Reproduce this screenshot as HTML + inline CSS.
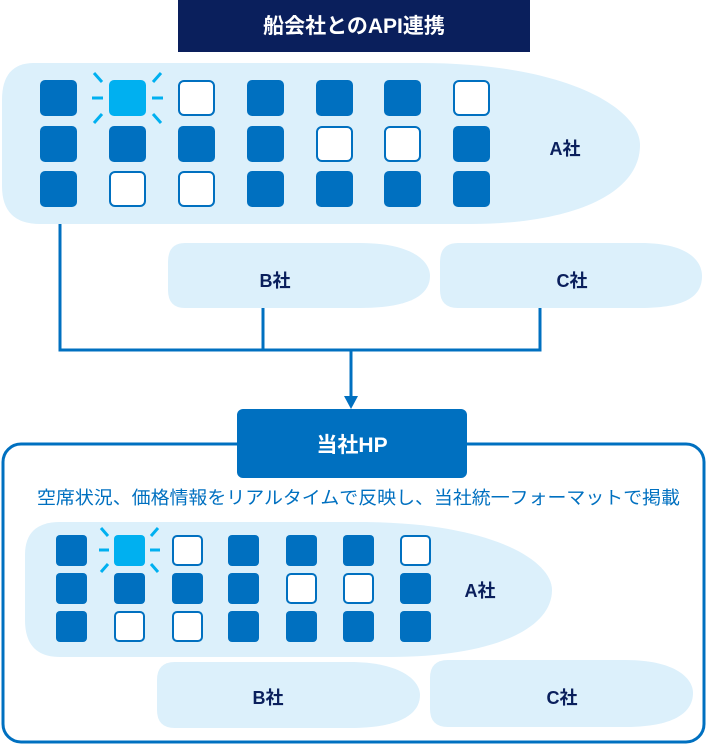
<!DOCTYPE html>
<html><head><meta charset="utf-8"><style>
body{margin:0;background:#fff}
svg{display:block}
text{font-family:"Liberation Sans","Noto Sans CJK JP",sans-serif;font-weight:bold}
</style></head><body>
<svg width="708" height="745" viewBox="0 0 708 745" xmlns="http://www.w3.org/2000/svg">
<!-- title -->
<rect x="178" y="0" width="352" height="52" fill="#0a1f5c"/>
<text x="354" y="33" fill="#fff" font-size="21" text-anchor="middle">船会社とのAPI連携</text>

<!-- top A plane -->
<path d="M34,63 H420 C570,63 640,110 640,145 C640,195 570,224 470,224 H40 Q2,224 2,186 V100 Q2,63 34,63 Z" fill="#dcf0fb"/>
<text x="565" y="155" fill="#0a1f5c" font-size="18" text-anchor="middle">A社</text>

<path d="M185,243 H360 C410,243 430,260 430,276 C430,295 410,308 360,308 H185 Q168,308 168,290 V262 Q168,243 185,243 Z" fill="#dcf0fb"/>
<path d="M458,243 H640 C690,243 702,262 702,276 C702,295 688,308 640,308 H458 Q440,308 440,290 V262 Q440,243 458,243 Z" fill="#dcf0fb"/>
<text x="275" y="287" fill="#0a1f5c" font-size="18" text-anchor="middle">B社</text>
<text x="572" y="287" fill="#0a1f5c" font-size="18" text-anchor="middle">C社</text>

<!-- connectors -->
<g stroke="#0070c0" stroke-width="3" fill="none">
<path d="M60,224 V350 H540 V308"/>
<path d="M263,308 V350"/>
<path d="M351,350 V398"/>
</g>
<path d="M344,396 L358,396 L351,409 Z" fill="#0070c0"/>

<!-- frame -->
<rect x="3" y="444" width="701" height="298" rx="18" fill="none" stroke="#0070c0" stroke-width="3"/>
<rect x="237" y="409" width="230" height="69" rx="6" fill="#0070c0"/>
<text x="352" y="452" fill="#fff" font-size="21" text-anchor="middle">当社HP</text>
<text x="37" y="504" fill="#0070c0" font-size="18" textLength="643" lengthAdjust="spacingAndGlyphs" style="font-weight:normal">空席状況、価格情報をリアルタイムで反映し、当社統一フォーマットで掲載</text>

<!-- bottom A plane -->
<path d="M60,522 H360 C490,522 552,560 552,590 C552,630 490,657 390,657 H60 Q25,657 25,620 V555 Q25,522 60,522 Z" fill="#dcf0fb"/>
<text x="480" y="597" fill="#0a1f5c" font-size="18" text-anchor="middle">A社</text>

<path d="M175,662 H350 C400,662 420,680 420,695 C420,714 400,728 350,728 H175 Q157,728 157,710 V680 Q157,662 175,662 Z" fill="#dcf0fb"/>
<path d="M448,660 H625 C675,660 693,678 693,693 C693,712 675,727 625,727 H448 Q430,727 430,709 V678 Q430,660 448,660 Z" fill="#dcf0fb"/>
<text x="268" y="704" fill="#0a1f5c" font-size="18" text-anchor="middle">B社</text>
<text x="562" y="704" fill="#0a1f5c" font-size="18" text-anchor="middle">C社</text>

<!-- top seats -->
<g>
<rect x="40" y="80" width="37" height="36" rx="5" fill="#0070c0"/>
<rect x="109" y="80" width="37" height="36" rx="5" fill="#00b0f0"/>
<rect x="179" y="81" width="35" height="34" rx="5" fill="#fff" stroke="#0070c0" stroke-width="2"/>
<rect x="247" y="80" width="37" height="36" rx="5" fill="#0070c0"/>
<rect x="316" y="80" width="37" height="36" rx="5" fill="#0070c0"/>
<rect x="384" y="80" width="37" height="36" rx="5" fill="#0070c0"/>
<rect x="454" y="81" width="35" height="34" rx="5" fill="#fff" stroke="#0070c0" stroke-width="2"/>
<rect x="40" y="126" width="37" height="36" rx="5" fill="#0070c0"/>
<rect x="109" y="126" width="37" height="36" rx="5" fill="#0070c0"/>
<rect x="178" y="126" width="37" height="36" rx="5" fill="#0070c0"/>
<rect x="247" y="126" width="37" height="36" rx="5" fill="#0070c0"/>
<rect x="317" y="127" width="35" height="34" rx="5" fill="#fff" stroke="#0070c0" stroke-width="2"/>
<rect x="385" y="127" width="35" height="34" rx="5" fill="#fff" stroke="#0070c0" stroke-width="2"/>
<rect x="453" y="126" width="37" height="36" rx="5" fill="#0070c0"/>
<rect x="40" y="171" width="37" height="36" rx="5" fill="#0070c0"/>
<rect x="110" y="172" width="35" height="34" rx="5" fill="#fff" stroke="#0070c0" stroke-width="2"/>
<rect x="179" y="172" width="35" height="34" rx="5" fill="#fff" stroke="#0070c0" stroke-width="2"/>
<rect x="247" y="171" width="37" height="36" rx="5" fill="#0070c0"/>
<rect x="316" y="171" width="37" height="36" rx="5" fill="#0070c0"/>
<rect x="384" y="171" width="37" height="36" rx="5" fill="#0070c0"/>
<rect x="453" y="171" width="37" height="36" rx="5" fill="#0070c0"/>
<g stroke="#00b0f0" stroke-width="3">
<line x1="92" y1="98" x2="103" y2="98"/><line x1="152" y1="98" x2="163" y2="98"/>
<line x1="94" y1="73" x2="102" y2="82"/><line x1="161" y1="73" x2="153" y2="82"/>
<line x1="94" y1="123" x2="102" y2="114"/><line x1="161" y1="123" x2="153" y2="114"/>
</g>
</g>

<!-- bottom seats -->
<g>
<rect x="56" y="535" width="31" height="31" rx="4" fill="#0070c0"/>
<rect x="114" y="535" width="31" height="31" rx="4" fill="#00b0f0"/>
<rect x="173" y="536" width="29" height="29" rx="4" fill="#fff" stroke="#0070c0" stroke-width="2"/>
<rect x="228" y="535" width="31" height="31" rx="4" fill="#0070c0"/>
<rect x="286" y="535" width="31" height="31" rx="4" fill="#0070c0"/>
<rect x="343" y="535" width="31" height="31" rx="4" fill="#0070c0"/>
<rect x="401" y="536" width="29" height="29" rx="4" fill="#fff" stroke="#0070c0" stroke-width="2"/>
<rect x="56" y="573" width="31" height="31" rx="4" fill="#0070c0"/>
<rect x="114" y="573" width="31" height="31" rx="4" fill="#0070c0"/>
<rect x="172" y="573" width="31" height="31" rx="4" fill="#0070c0"/>
<rect x="228" y="573" width="31" height="31" rx="4" fill="#0070c0"/>
<rect x="287" y="574" width="29" height="29" rx="4" fill="#fff" stroke="#0070c0" stroke-width="2"/>
<rect x="344" y="574" width="29" height="29" rx="4" fill="#fff" stroke="#0070c0" stroke-width="2"/>
<rect x="400" y="573" width="31" height="31" rx="4" fill="#0070c0"/>
<rect x="56" y="611" width="31" height="31" rx="4" fill="#0070c0"/>
<rect x="115" y="612" width="29" height="29" rx="4" fill="#fff" stroke="#0070c0" stroke-width="2"/>
<rect x="173" y="612" width="29" height="29" rx="4" fill="#fff" stroke="#0070c0" stroke-width="2"/>
<rect x="228" y="611" width="31" height="31" rx="4" fill="#0070c0"/>
<rect x="286" y="611" width="31" height="31" rx="4" fill="#0070c0"/>
<rect x="343" y="611" width="31" height="31" rx="4" fill="#0070c0"/>
<rect x="400" y="611" width="31" height="31" rx="4" fill="#0070c0"/>
<g stroke="#00b0f0" stroke-width="3">
<line x1="99" y1="550" x2="109" y2="550"/><line x1="150" y1="550" x2="160" y2="550"/>
<line x1="101" y1="528" x2="108" y2="536"/><line x1="158" y1="528" x2="151" y2="536"/>
<line x1="101" y1="572" x2="108" y2="564"/><line x1="158" y1="572" x2="151" y2="564"/>
</g>
</g>
</svg>
</body></html>
